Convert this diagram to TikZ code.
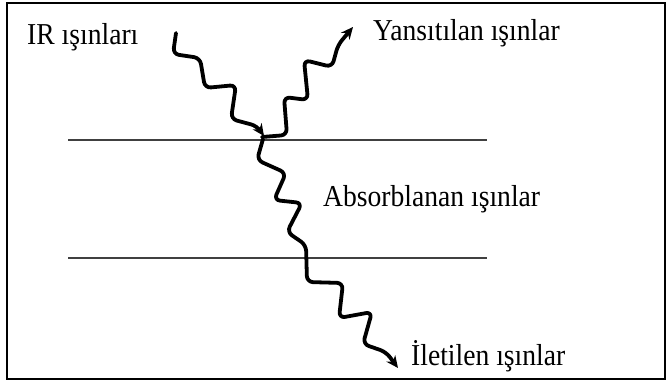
\documentclass[tikz,border=0pt]{standalone}
\usepackage{fontspec}
\setmainfont{Liberation Serif}
\usetikzlibrary{arrows.meta}
\begin{document}
\begin{tikzpicture}[x=1pt,y=-1pt,
  wave/.style={line width=3.8pt,rounded corners=6pt,line cap=round,line join=round,
    -{Stealth[length=12pt,width=11pt]}},
  layer/.style={line width=1.6pt,draw=black!75},
  lbl/.style={anchor=base west,inner sep=0pt,yscale=1.1,transform shape,font=\fontsize{27.6}{30}\selectfont}]
\useasboundingbox (0,0) rectangle (670,382);
\draw[line width=2pt] (7,3) rectangle (665,379);
% layers
\coordinate (t1) at (68,140); \coordinate (t2) at (487,140);
\coordinate (b1) at (68,258); \coordinate (b2) at (487,258);
\draw[layer] (t1) -- (t2);
\draw[layer] (b1) -- (b2);
% labels
\node[lbl] (ir) at (27,45) {IR ışınları};
\node[lbl] (yan) at (373,41) {Yansıtılan ışınlar};
\node[lbl] (abs) at (323,207) {Absorblanan ışınlar};
\node[lbl] (ilet) at (411,366) {İletilen ışınlar};
% waves
\coordinate (inS) at (176,33);
\coordinate (hit) at (264,136);
\coordinate (refS) at (262,137);
\coordinate (refE) at (353,27);
\coordinate (trS) at (263,139);
\coordinate (trE) at (398,368);
\draw[wave] (inS) -- (173,54) -- (200,58) -- (205,88) -- (236,85) -- (231,119) -- (257,126) -- (hit);
\draw[wave] (refS) -- (287,135) -- (284,97) -- (308,100) -- (304,60) -- (332,67) -- (338,45) -- (refE);
\draw[wave] (trS) -- (257,160) -- (286,173) -- (274,200) -- (302,203) -- (287,232) -- (306,245)
  -- (307,282) -- (343,283) -- (339,318) -- (372,312) -- (363,344) -- (386,352) -- (trE);
\end{tikzpicture}
\end{document}
